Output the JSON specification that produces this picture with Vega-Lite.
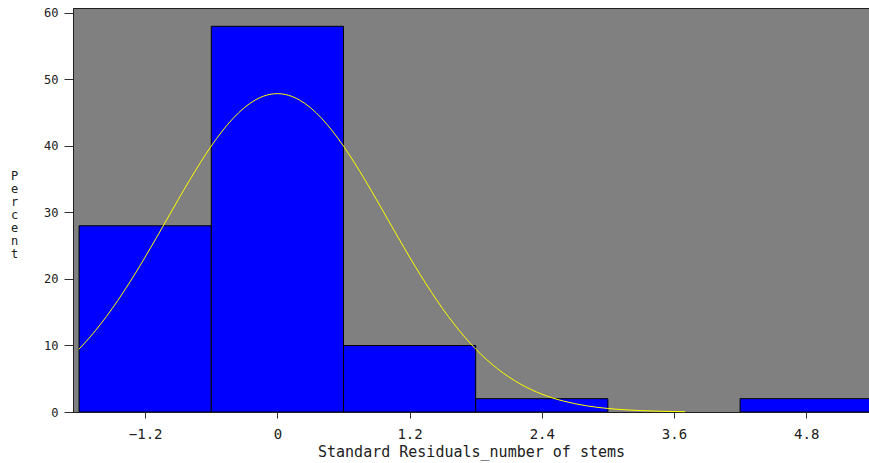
{
  "$schema": "https://vega.github.io/schema/vega-lite/v6.json",
  "autosize": {"type": "none"},
  "width": 796,
  "height": 404,
  "padding": {"left": 73, "top": 8, "right": 0, "bottom": 51},
  "background": "white",
  "config": {
    "view": {"fill": "#808080", "stroke": "#202020", "strokeWidth": 1},
    "axis": {"grid": false, "domainColor": "#202020", "tickColor": "#303030", "labelColor": "#202020", "titleColor": "#202020", "labelFont": "DejaVu Sans Mono", "titleFont": "DejaVu Sans Mono", "titleFontWeight": "normal"}
  },
  "datasets": {
    "bars": [
      {"bin_start": -1.8, "bin_end": -0.6, "percent": 28},
      {"bin_start": -0.6, "bin_end": 0.6, "percent": 58},
      {"bin_start": 0.6, "bin_end": 1.8, "percent": 10},
      {"bin_start": 1.8, "bin_end": 3.0, "percent": 2},
      {"bin_start": 3.0, "bin_end": 4.2, "percent": 0},
      {"bin_start": 4.2, "bin_end": 5.4, "percent": 2}
    ],
    "curve": [
      {"x": -1.8, "y": 9.47}, {"x": -1.7, "y": 11.28}, {"x": -1.6, "y": 13.31}, {"x": -1.5, "y": 15.54},
      {"x": -1.4, "y": 17.97}, {"x": -1.3, "y": 20.56}, {"x": -1.2, "y": 23.30}, {"x": -1.1, "y": 26.14},
      {"x": -1.0, "y": 29.03}, {"x": -0.9, "y": 31.93}, {"x": -0.8, "y": 34.76}, {"x": -0.7, "y": 37.47},
      {"x": -0.6, "y": 39.99}, {"x": -0.5, "y": 42.25}, {"x": -0.4, "y": 44.19}, {"x": -0.3, "y": 45.76},
      {"x": -0.2, "y": 46.92}, {"x": -0.1, "y": 47.63}, {"x": 0.0, "y": 47.87}, {"x": 0.1, "y": 47.63},
      {"x": 0.2, "y": 46.92}, {"x": 0.3, "y": 45.76}, {"x": 0.4, "y": 44.19}, {"x": 0.5, "y": 42.25},
      {"x": 0.6, "y": 39.99}, {"x": 0.7, "y": 37.47}, {"x": 0.8, "y": 34.76}, {"x": 0.9, "y": 31.93},
      {"x": 1.0, "y": 29.03}, {"x": 1.1, "y": 26.14}, {"x": 1.2, "y": 23.30}, {"x": 1.3, "y": 20.56},
      {"x": 1.4, "y": 17.97}, {"x": 1.5, "y": 15.54}, {"x": 1.6, "y": 13.31}, {"x": 1.7, "y": 11.28},
      {"x": 1.8, "y": 9.47}, {"x": 1.9, "y": 7.87}, {"x": 2.0, "y": 6.48}, {"x": 2.1, "y": 5.28},
      {"x": 2.2, "y": 4.26}, {"x": 2.3, "y": 3.40}, {"x": 2.4, "y": 2.69}, {"x": 2.5, "y": 2.10},
      {"x": 2.6, "y": 1.63}, {"x": 2.7, "y": 1.25}, {"x": 2.8, "y": 0.95}, {"x": 2.9, "y": 0.71},
      {"x": 3.0, "y": 0.53}, {"x": 3.1, "y": 0.39}, {"x": 3.2, "y": 0.29}, {"x": 3.3, "y": 0.21},
      {"x": 3.4, "y": 0.15}, {"x": 3.5, "y": 0.10}, {"x": 3.6, "y": 0.07}, {"x": 3.7, "y": 0.05}
    ]
  },
  "layer": [
    {
      "data": {"name": "bars"},
      "transform": [{"filter": "datum.percent > 0"}],
      "mark": {"type": "rect", "fill": "#0000ff", "stroke": "#000000", "strokeWidth": 1, "clip": true},
      "encoding": {
        "x": {
          "field": "bin_start", "type": "quantitative",
          "scale": {"domain": [-1.855, 5.37], "nice": false, "zero": false},
          "axis": {
            "values": [-1.2, 0, 1.2, 2.4, 3.6, 4.8],
            "labelExpr": "datum.value == 0 ? '0' : format(datum.value, '.1f')",
            "tickSize": 6, "labelPadding": 9, "labelFontSize": 14,
            "title": "Standard Residuals_number of stems",
            "titleFontSize": 15, "titlePadding": 3
          }
        },
        "x2": {"field": "bin_end"},
        "y": {
          "field": "percent", "type": "quantitative",
          "scale": {"domain": [0, 60.75], "nice": false},
          "axis": {
            "values": [0, 10, 20, 30, 40, 50, 60],
            "tickSize": 9, "labelPadding": 6, "labelFontSize": 12,
            "title": ["P", "e", "r", "c", "e", "n", "t"],
            "titleAngle": 0, "titleAlign": "center", "titleBaseline": "middle",
            "titleX": -59, "titleY": 167, "titleFontSize": 12, "titleLineHeight": 13
          }
        },
        "y2": {"datum": 0}
      }
    },
    {
      "data": {"name": "curve"},
      "mark": {"type": "line", "color": "#ffff00", "strokeWidth": 1, "interpolate": "monotone"},
      "encoding": {
        "x": {"field": "x", "type": "quantitative"},
        "y": {"field": "y", "type": "quantitative"}
      }
    }
  ]
}
